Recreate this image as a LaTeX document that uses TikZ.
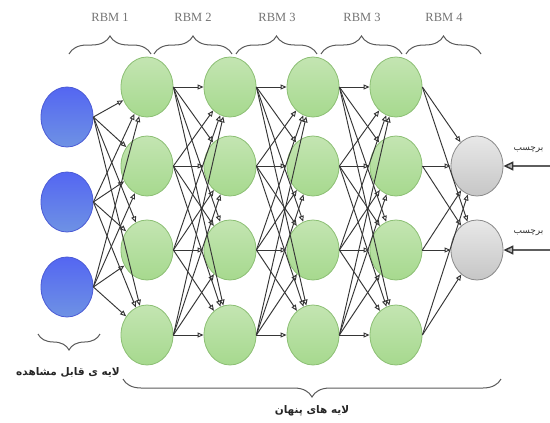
\documentclass[tikz,border=0pt]{standalone}
\usepackage{fontspec}
\setmainfont{Liberation Serif}
\newfontfamily\farsi[Script=Arabic]{DejaVu Sans}
\TeXXeTstate=1
\usetikzlibrary{shapes.geometric,arrows.meta,decorations.pathreplacing}

\definecolor{visborder}{HTML}{4B5BD6}
\definecolor{vistop}{HTML}{5466F2}
\definecolor{visbottom}{HTML}{6E92E4}
\definecolor{hidborder}{HTML}{8CBF74}
\definecolor{hidtop}{HTML}{C4E5B2}
\definecolor{hidbottom}{HTML}{A6D98E}
\definecolor{outborder}{HTML}{8A8A8A}
\definecolor{outtop}{HTML}{E8E8E8}
\definecolor{outbottom}{HTML}{C6C6C6}
\definecolor{linkgray}{HTML}{363636}
\definecolor{bracegray}{HTML}{5A5A5A}

\begin{document}
\begin{tikzpicture}[x=1pt, y=-1pt,
    neuron/.style={ellipse, minimum width=52pt, minimum height=60pt, inner sep=0pt, line width=0.8pt},
    visnode/.style={neuron, draw=visborder, top color=vistop, bottom color=visbottom},
    hidnode/.style={neuron, draw=hidborder, top color=hidtop, bottom color=hidbottom},
    outnode/.style={neuron, draw=outborder, top color=outtop, bottom color=outbottom},
    link/.style={draw=linkgray, line width=0.95pt, -{Triangle[open, length=6pt, width=5pt]}},
    inlink/.style={draw=linkgray!80, line width=1.4pt, -{Triangle[length=10pt, width=9pt, fill=gray!60, color=linkgray]}},
    rbmtext/.style={text=gray!90!black, font=\fontsize{12.5}{14}\selectfont},
    fatext/.style={text=black!85, font=\farsi\bfseries\fontsize{10.5}{12}\selectfont},
    tagtext/.style={text=black!80, font=\farsi\fontsize{9}{10}\selectfont},
    bracetop/.style={decorate, decoration={brace, amplitude=18pt}, draw=bracegray, line width=1pt}
  ]
  \useasboundingbox (0,0) rectangle (550,423);

  % visible layer
  \foreach \i/\y in {1/117, 2/202, 3/287}
    \node[visnode] (v\i) at (67,\y) {};

  % hidden layers
  \foreach \c/\x in {1/147, 2/230, 3/313, 4/396}
    \foreach \r/\y in {1/87, 2/166, 3/250, 4/335}
      \node[hidnode] (h\c\r) at (\x,\y) {};

  % label units
  \node[outnode] (o1) at (477,166) {};
  \node[outnode] (o2) at (477,250) {};

  % connections
  \foreach \i in {1,2,3}
    \foreach \r in {1,...,4}
      \draw[link] (v\i.east) -- (h1\r);
  \foreach \c/\n in {1/2, 2/3, 3/4}
    \foreach \a in {1,...,4}
      \foreach \b in {1,...,4}
        \draw[link] (h\c\a.east) -- (h\n\b);
  \foreach \a in {1,...,4}
    \foreach \b in {1,2}
      \draw[link] (h4\a.east) -- (o\b);

  % label inputs
  \coordinate (in1) at (556,166);
  \coordinate (in2) at (556,250);
  \draw[inlink] (in1) -- (o1);
  \draw[inlink] (in2) -- (o2);
  \node[tagtext, anchor=west] (t1) at (510,150) {\beginR برچسب\endR};
  \node[tagtext, anchor=west] (t2) at (510,233) {\beginR برچسب\endR};

  % top braces
  \foreach \a/\b in {69/151, 154/232, 236/317, 321/402, 406/481}
    \draw[bracetop] (\a,54) -- (\b,54);
  \node[rbmtext] (r1) at (110,17) {RBM 1};
  \node[rbmtext] (r2) at (193,17) {RBM 2};
  \node[rbmtext] (r3) at (277,17) {RBM 3};
  \node[rbmtext] (r4) at (362,17) {RBM 3};
  \node[rbmtext] (r5) at (444,17) {RBM 4};

  % bottom braces
  \draw[bracetop, decoration={brace, amplitude=16pt}] (100,334) -- (38,334);
  \draw[bracetop] (501,379) -- (123,379);
  \node[fatext] (f1) at (68,372) {\beginR لایه ی قابل مشاهده\endR};
  \node[fatext] (f2) at (312,411) {\beginR لایه های پنهان\endR};
\end{tikzpicture}
\end{document}
